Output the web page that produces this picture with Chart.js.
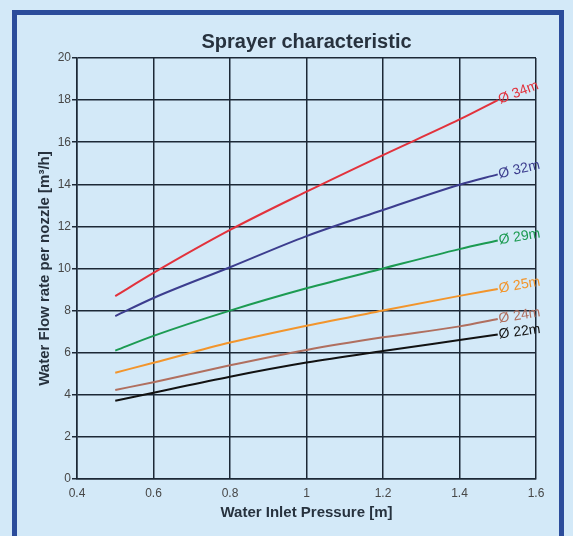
<!DOCTYPE html>
<html>
<head>
<meta charset="utf-8">
<script src="https://cdn.jsdelivr.net/npm/chart.js@4"></script>
<style>
  html, body { margin: 0; padding: 0; background: #d3e9f8; overflow: hidden; }
  #frame {
    position: absolute; left: 12px; top: 10px; width: 552px; height: 560px;
    border: 5px solid #2b4c9b; box-sizing: border-box;
  }
  #wrap { position: absolute; left: 0; top: 0; width: 573px; height: 536px; }
</style>
</head>
<body>
<div id="frame"></div>
<div id="wrap"><canvas id="sprayer"></canvas></div>
<script>
// Water inlet pressure [m]
const pressure = [0.5, 0.6, 0.8, 1.0, 1.2, 1.4, 1.5];

// Flow rate per nozzle [m3/h] for each nozzle diameter
const flow34 = [8.69, 9.79, 11.83, 13.65, 15.39, 17.08, 18.0];
const flow32 = [7.74, 8.6, 10.06, 11.54, 12.78, 13.98, 14.47];
const flow29 = [6.1, 6.8, 8.0, 9.06, 10.0, 10.92, 11.33];
const flow25 = [5.05, 5.52, 6.48, 7.28, 8.0, 8.7, 9.03];
const flow24 = [4.23, 4.6, 5.4, 6.13, 6.73, 7.25, 7.6];
const flow22 = [3.72, 4.1, 4.86, 5.53, 6.08, 6.6, 6.86];

const seriesLabels = ['Ø 34m', 'Ø 32m', 'Ø 29m', 'Ø 25m', 'Ø 24m', 'Ø 22m'];
const seriesColors = ['#e2323c', '#3c3d8e', '#1c9b52', '#f2952c', '#b06f5f', '#121212'];
const labelAngles = [-21, -13, -9.5, -10, -9, -7.5];

const xTicks = [0.4, 0.6, 0.8, 1, 1.2, 1.4, 1.6];
const yTicks = [0, 2, 4, 6, 8, 10, 12, 14, 16, 18, 20];

const fontFamily = '"Liberation Sans", Arial, sans-serif';

function toPoints(values) {
    return values.map((v, i) => ({ x: pressure[i], y: v }));
}

const allFlows = [flow34, flow32, flow29, flow25, flow24, flow22];

const datasets = allFlows.map((values, i) => ({
    label: seriesLabels[i],
    data: toPoints(values),
    borderColor: seriesColors[i],
    borderWidth: 2,
    pointRadius: 0,
    fill: false,
    cubicInterpolationMode: 'monotone'
}));

// Title centred over the plot area, and nozzle labels at the curve ends
const chartTexts = {
    id: 'chartTexts',
    afterDraw(chart) {
        const ctx = chart.ctx;
        const area = chart.chartArea;
        ctx.save();
        ctx.font = 'bold 20px ' + fontFamily;
        ctx.fillStyle = '#27323e';
        ctx.textAlign = 'center';
        ctx.textBaseline = 'alphabetic';
        ctx.fillText('Sprayer characteristic', (area.left + area.right) / 2, 48);

        ctx.font = '14px ' + fontFamily;
        ctx.textBaseline = 'middle';
        ctx.textAlign = 'left';
        chart.data.datasets.forEach((ds, i) => {
            const last = ds.data[ds.data.length - 1];
            const px = chart.scales.x.getPixelForValue(last.x);
            const py = chart.scales.y.getPixelForValue(last.y);
            ctx.save();
            ctx.translate(px + 1, py);
            ctx.rotate(labelAngles[i] * Math.PI / 180);
            ctx.fillStyle = seriesColors[i];
            ctx.fillText(seriesLabels[i], 0, 0);
            ctx.restore();
        });
        ctx.restore();
    }
};

const config = {
    type: 'line',
    data: { datasets: datasets },
    options: {
        responsive: true,
        maintainAspectRatio: false,
        animation: false,
        layout: { padding: { left: 22, right: 37, top: 58, bottom: 14 } },
        plugins: {
            legend: { display: false },
            tooltip: { enabled: false },
            title: { display: false }
        },
        scales: {
            x: {
                type: 'linear',
                min: 0.4,
                max: 1.6,
                afterBuildTicks: (s) => { s.ticks = xTicks.map(v => ({ value: v })); },
                afterFit: (s) => { s.height = 43; },
                ticks: {
                    color: '#474747',
                    font: { family: fontFamily, size: 12 },
                    padding: 7,
                    callback: (v) => String(v)
                },
                grid: { color: '#1c2836', lineWidth: 1.5, drawTicks: false },
                border: { color: '#1c2836', width: 1.5 },
                title: {
                    display: true,
                    text: 'Water Inlet Pressure [m]',
                    color: '#27323e',
                    font: { family: fontFamily, size: 15, weight: 'bold' },
                    padding: { top: 0, bottom: 0 }
                }
            },
            y: {
                type: 'linear',
                min: 0,
                max: 20,
                afterBuildTicks: (s) => { s.ticks = yTicks.map(v => ({ value: v })); },
                afterFit: (s) => { s.width = 55; },
                ticks: {
                    color: '#474747',
                    font: { family: fontFamily, size: 12 },
                    padding: 1
                },
                grid: { color: '#1c2836', lineWidth: 1.5, tickLength: 5 },
                border: { color: '#1c2836', width: 1.5 },
                title: {
                    display: true,
                    text: 'Water Flow rate per nozzle [m³/h]',
                    color: '#27323e',
                    font: { family: fontFamily, size: 15, weight: 'bold' },
                    padding: { top: 14, bottom: 0 }
                }
            }
        }
    },
    plugins: [chartTexts]
};

const sprayerChart = new Chart(document.getElementById('sprayer'), config);
</script>
</body>
</html>
